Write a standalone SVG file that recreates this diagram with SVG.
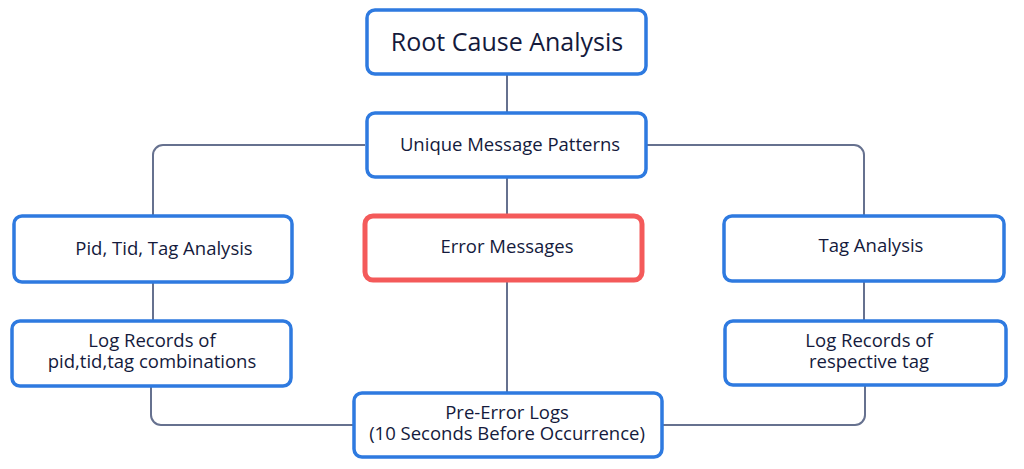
<svg xmlns="http://www.w3.org/2000/svg" width="1024" height="469" viewBox="0 0 1024 469">
<style>
.box{fill:#fff;stroke:#2e7ae0;stroke-width:3.5}
.err{fill:#fff;stroke:#f45a5a;stroke-width:5}
.ln{fill:none;stroke:#66718f;stroke-width:2}
text{font-family:"Open Sans","Noto Sans",sans-serif;fill:#141a3c;text-anchor:middle;font-size:18.5px}
.big{font-size:25px}
</style>
<rect width="1024" height="469" fill="#fff"/>
<g id="connectors">
<path class="ln" d="M507 75V112"/>
<path class="ln" d="M507 178V214"/>
<path class="ln" d="M507 282V392"/>
<path class="ln" d="M365 145H163a10 10 0 0 0-10 10V215"/>
<path class="ln" d="M647 145H854a10 10 0 0 1 10 10V215"/>
<path class="ln" d="M153 283V320"/>
<path class="ln" d="M864 282V320"/>
<path class="ln" d="M151 387V415a10 10 0 0 0 10 10H353"/>
<path class="ln" d="M865 386V415a10 10 0 0 1-10 10H663"/>
</g>
<g id="root"><rect class="box" x="367" y="10" width="279" height="64" rx="8"/><text class="big" x="507" y="51">Root Cause Analysis</text></g>
<g id="unique"><rect class="box" x="367" y="113" width="279" height="64" rx="8"/><text x="510" y="151">Unique Message Patterns</text></g>
<g id="pid"><rect class="box" x="14" y="216" width="278" height="66" rx="8"/><text x="164" y="255">Pid, Tid, Tag Analysis</text></g>
<g id="error"><rect class="err" x="365" y="216" width="277" height="64" rx="8"/><text x="507" y="253">Error Messages</text></g>
<g id="tag"><rect class="box" x="724" y="216" width="280" height="65" rx="8"/><text x="871" y="252">Tag Analysis</text></g>
<g id="logleft"><rect class="box" x="12" y="321" width="279" height="65" rx="8"/><text x="152" y="347">Log Records of</text><text x="152" y="368">pid,tid,tag combinations</text></g>
<g id="logright"><rect class="box" x="725" y="321" width="281" height="64" rx="8"/><text x="869" y="347">Log Records of</text><text x="869" y="368">respective tag</text></g>
<g id="preerror"><rect class="box" x="354" y="393" width="308" height="64" rx="8"/><text x="507" y="419">Pre-Error Logs</text><text x="507" y="440">(10 Seconds Before Occurrence)</text></g>
</svg>
